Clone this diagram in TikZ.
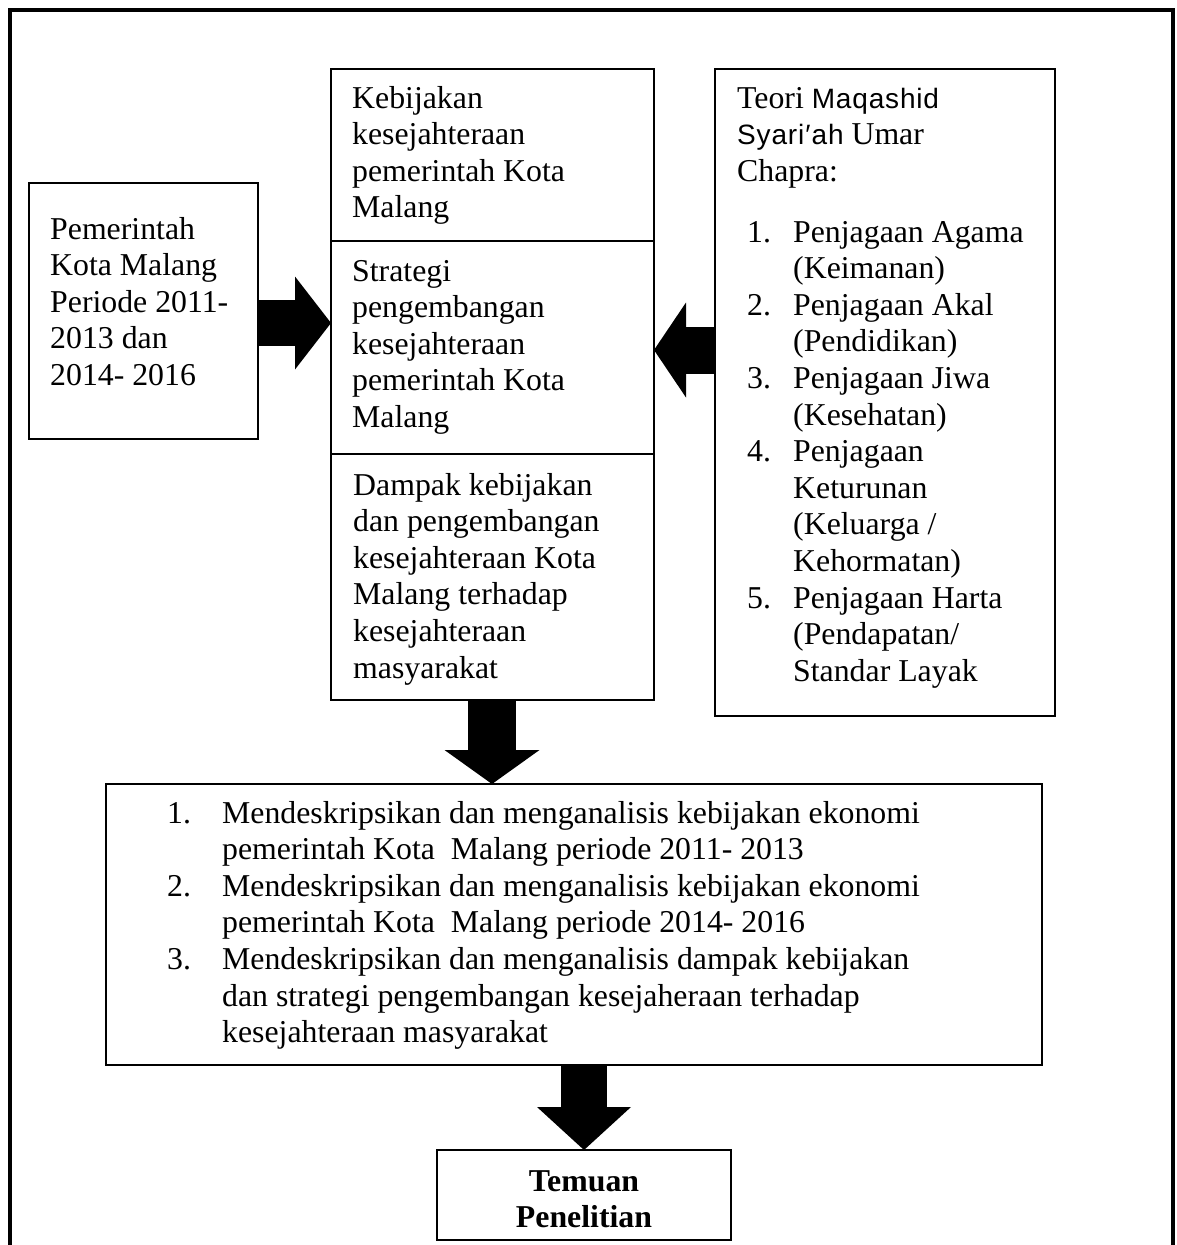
\documentclass[tikz,border=0pt]{standalone}
\usepackage{fontspec}
\usepackage{array}
\setmainfont{Liberation Serif}
\newfontfamily\sansfam[LetterSpace=3]{Liberation Sans}
\newcommand\diagfont{\fontsize{31.8pt}{36.6pt}\selectfont}
\newcommand\sanspart[1]{{\sansfam\fontsize{28pt}{36.6pt}\selectfont #1}}
\usetikzlibrary{arrows.meta}

\begin{document}
\begin{tikzpicture}[x=1pt,y=-1pt,
  box/.style={draw, line width=2.2pt, inner sep=0pt, outer sep=0pt, anchor=north west},
  txt/.style={inner sep=0pt, anchor=base west, font=\diagfont},
  blockarrow/.style n args={3}{line width=#1, -{Triangle[length=#2, width=#3, line width=0pt]}},
]
\useasboundingbox (0,0) rectangle (1177,1245);

% outer frame, open at the bottom
\draw[line width=4pt] (10,1245) -- (10,10) -- (1173,10) -- (1173,1245);

% boxes
\node[box, minimum width=229pt, minimum height=256pt] (gov)   at (29,183)  {};
\node[box, minimum width=323pt, minimum height=172pt] (kebij) at (331,69)  {};
\node[box, minimum width=323pt, minimum height=213pt] (strat) at (331,241) {};
\node[box, minimum width=323pt, minimum height=246pt] (damp)  at (331,454) {};
\node[box, minimum width=340pt, minimum height=647pt] (teori) at (715,69)  {};
\node[box, minimum width=936pt, minimum height=281pt] (tujuan) at (106,784) {};
\node[box, minimum width=294pt, minimum height=90pt]  (temuan) at (437,1150) {};

% texts
\node[txt] (govtxt) at (50,239) {\begin{tabular}[t]{@{}l@{}}
Pemerintah\\ Kota Malang\\ Periode 2011-\\ 2013 dan\\ 2014- 2016\end{tabular}};

\node[txt] (kebijtxt) at (352,108) {\begin{tabular}[t]{@{}l@{}}
Kebijakan\\ kesejahteraan\\ pemerintah Kota\\ Malang\end{tabular}};

\node[txt] (strattxt) at (352,281) {\begin{tabular}[t]{@{}l@{}}
Strategi\\ pengembangan\\ kesejahteraan\\ pemerintah Kota\\ Malang\end{tabular}};

\node[txt] (damptxt) at (353,495) {\begin{tabular}[t]{@{}l@{}}
Dampak kebijakan\\ dan pengembangan\\ kesejahteraan Kota\\ Malang terhadap\\ kesejahteraan\\ masyarakat\end{tabular}};

\node[txt] (teorihead) at (737,108) {\begin{tabular}[t]{@{}l@{}}
Teori \sanspart{Maqashid}\\ \sanspart{Syari\kern1pt′\kern1pt ah} Umar\\ Chapra:\end{tabular}};

\node[txt] (teorilist) at (747,242) {\begin{tabular}[t]{@{}p{46pt}@{}l@{}}
1. & Penjagaan Agama\\
   & (Keimanan)\\
2. & Penjagaan Akal\\
   & (Pendidikan)\\
3. & Penjagaan Jiwa\\
   & (Kesehatan)\\
4. & Penjagaan\\
   & Keturunan\\
   & (Keluarga /\\
   & Kehormatan)\\
5. & Penjagaan Harta\\
   & (Pendapatan/\\
   & Standar Layak\end{tabular}};

\node[txt] (tujuantxt) at (167,823) {\begin{tabular}[t]{@{}p{55pt}@{}l@{}}
1. & Mendeskripsikan dan menganalisis kebijakan ekonomi\\
   & pemerintah Kota\ \ Malang periode 2011- 2013\\
2. & Mendeskripsikan dan menganalisis kebijakan ekonomi\\
   & pemerintah Kota\ \ Malang periode 2014- 2016\\
3. & Mendeskripsikan dan menganalisis dampak kebijakan\\
   & dan strategi pengembangan kesejaheraan terhadap\\
   & kesejahteraan masyarakat\end{tabular}};

\node[txt, anchor=base] (temuantxt) at (584,1191) {\begin{tabular}[t]{@{}c@{}}
\textbf{Temuan}\\ \textbf{Penelitian}\end{tabular}};

% block arrows
\draw[blockarrow={46pt}{36pt}{93pt}] (gov.east |- 0,323) -- (strat.west |- 0,323);
\draw[blockarrow={47pt}{32pt}{95pt}] (teori.west |- 0,350) -- (strat.east |- 0,350);
\draw[blockarrow={48pt}{34pt}{95pt}] (damp.south -| 492,0) -- (tujuan.north -| 492,0);
\draw[blockarrow={46pt}{43pt}{94pt}] (tujuan.south -| 584,0) -- (temuan.north);
\end{tikzpicture}
\end{document}
